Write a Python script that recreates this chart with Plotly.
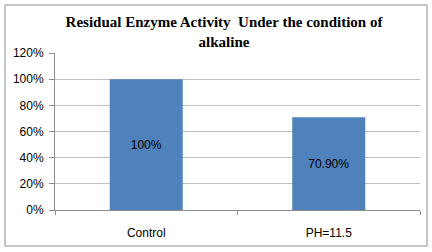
import plotly.graph_objects as go

categories = ["Control", "PH=11.5"]
values = [1.00, 0.709]
labels = ["100%", "70.90%"]
title_lines = ["Residual Enzyme Activity  Under the condition of", "alkaline"]

W, H = 432, 252
L, R, T, B = 55, 12, 53, 42
pw, ph = W - L - R, H - T - B

def px_x(x):
    return (x - L) / pw

def px_y(y):
    return (H - B - y) / ph

fig = go.Figure(go.Bar(
    x=categories, y=values, text=labels,
    textposition="inside", insidetextanchor="middle",
    textfont=dict(family="Liberation Sans, Arial", size=12, color="black"),
    marker=dict(color="#4F81BD", line=dict(width=0)),
    width=0.4,
))

fig.update_layout(
    width=W, height=H,
    margin=dict(l=L, r=R, t=T, b=B),
    paper_bgcolor="white", plot_bgcolor="white",
    showlegend=False,
    font=dict(family="Liberation Sans, Arial", size=12, color="black"),
    title=dict(
        text="<b>" + "<br>".join(title_lines) + "</b>",
        x=224 / W, xanchor="center", xref="container",
        y=1 - 27 / H, yanchor="top",
        font=dict(family="Liberation Serif, Times New Roman", size=15, color="black"),
    ),
    shapes=[dict(
        type="rect", xref="paper", yref="paper",
        x0=px_x(5), x1=px_x(427), y0=px_y(246), y1=px_y(5),
        line=dict(color="#8C8C8C", width=1), fillcolor="rgba(0,0,0,0)", layer="below",
    )],
)

fig.update_yaxes(
    range=[0, 1.2], dtick=0.2, tickformat=".0%",
    showgrid=True, gridcolor="#BFBFBF", gridwidth=1,
    showline=True, linecolor="#8C8C8C", linewidth=1,
    ticks="outside", ticklen=5, tickcolor="#8C8C8C",
    ticklabelstandoff=3,
    zeroline=False, fixedrange=True,
)
fig.update_xaxes(
    showline=True, linecolor="#8C8C8C", linewidth=1,
    ticks="outside", ticklen=4, tickcolor="#8C8C8C",
    tickson="boundaries", showgrid=False,
    ticklabelstandoff=12,
)

fig.write_html("out.html")
